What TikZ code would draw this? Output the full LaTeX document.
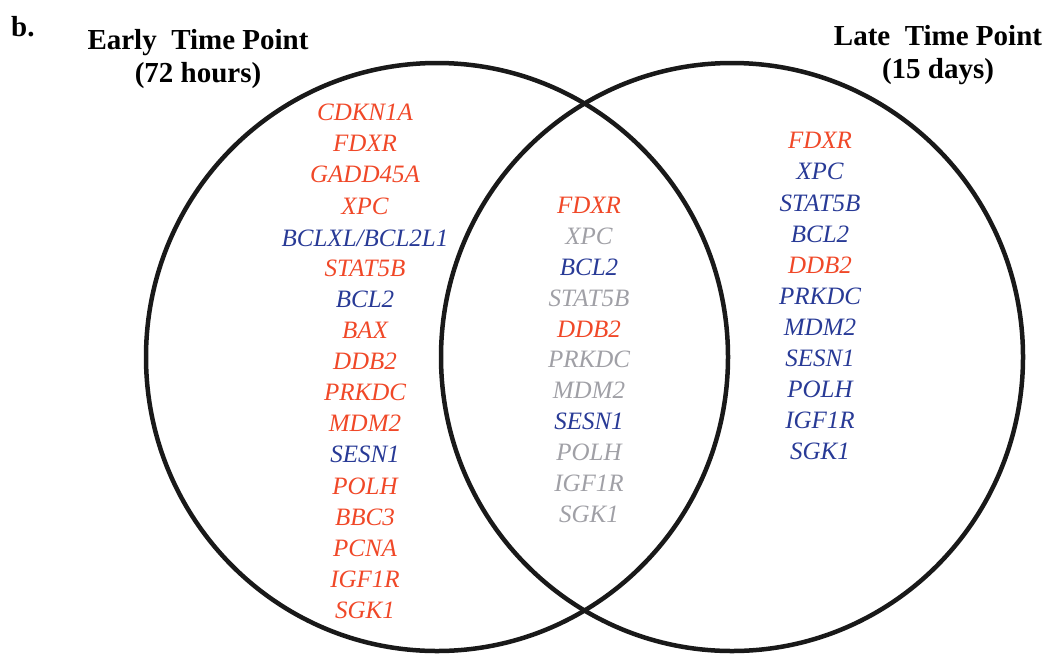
\documentclass[tikz,border=0pt]{standalone}
\usepackage{fontspec}
\setmainfont{Liberation Serif}
\usetikzlibrary{shapes.geometric}
\definecolor{gred}{RGB}{240,72,40}
\definecolor{gblue}{RGB}{40,58,150}
\definecolor{ggray}{RGB}{160,160,166}
\tikzset{
  venn/.style={draw=black!90, line width=4.5pt, ellipse, inner sep=0pt, minimum width=582pt, minimum height=588pt},
  gene/.style={font=\fontsize{25}{25}\selectfont\itshape, inner sep=0pt},
  up/.style={gene, text=gred},
  dn/.style={gene, text=gblue},
  ns/.style={gene, text=ggray},
  ttl/.style={font=\fontsize{29}{33}\selectfont\bfseries, align=center, inner sep=0pt}
}
\begin{document}
\begin{tikzpicture}[x=1pt,y=-1pt]
\useasboundingbox (0,0) rectangle (1051,654);
\node[venn] (early) at (437,357) {};
\node[venn] (late) at (732,357) {};
\node[ttl, anchor=west] (lbl) at (11,27) {b.};
\node[ttl] (t1) at (198,59) {Early\ \ Time Point\\(72 hours)};
\node[ttl] (t2) at (938,55) {Late\ \ Time Point\\(15 days)};
% early only
\node[up] (e1) at (365,112) {CDKN1A};
\node[up] (e2) at (365,143) {FDXR};
\node[up] (e3) at (365,174) {GADD45A};
\node[up] (e4) at (365,206) {XPC};
\node[dn] (e5) at (365,238) {BCLXL/BCL2L1};
\node[up] (e6) at (365,268) {STAT5B};
\node[dn] (e7) at (365,299) {BCL2};
\node[up] (e8) at (365,330) {BAX};
\node[up] (e9) at (365,361) {DDB2};
\node[up] (e10) at (365,392) {PRKDC};
\node[up] (e11) at (365,423) {MDM2};
\node[dn] (e12) at (365,454) {SESN1};
\node[up] (e13) at (365,486) {POLH};
\node[up] (e14) at (365,517) {BBC3};
\node[up] (e15) at (365,548) {PCNA};
\node[up] (e16) at (365,579) {IGF1R};
\node[up] (e17) at (365,610) {SGK1};
% shared
\node[up] (m1) at (589,205) {FDXR};
\node[ns] (m2) at (589,236) {XPC};
\node[dn] (m3) at (589,267) {BCL2};
\node[ns] (m4) at (589,298) {STAT5B};
\node[up] (m5) at (589,329) {DDB2};
\node[ns] (m6) at (589,359) {PRKDC};
\node[ns] (m7) at (589,390) {MDM2};
\node[dn] (m8) at (589,421) {SESN1};
\node[ns] (m9) at (589,452) {POLH};
\node[ns] (m10) at (589,483) {IGF1R};
\node[ns] (m11) at (589,514) {SGK1};
% late
\node[up] (l1) at (820,140) {FDXR};
\node[dn] (l2) at (820,171) {XPC};
\node[dn] (l3) at (820,203) {STAT5B};
\node[dn] (l4) at (820,234) {BCL2};
\node[up] (l5) at (820,265) {DDB2};
\node[dn] (l6) at (820,296) {PRKDC};
\node[dn] (l7) at (820,327) {MDM2};
\node[dn] (l8) at (820,358) {SESN1};
\node[dn] (l9) at (820,389) {POLH};
\node[dn] (l10) at (820,420) {IGF1R};
\node[dn] (l11) at (820,451) {SGK1};
\end{tikzpicture}
\end{document}
